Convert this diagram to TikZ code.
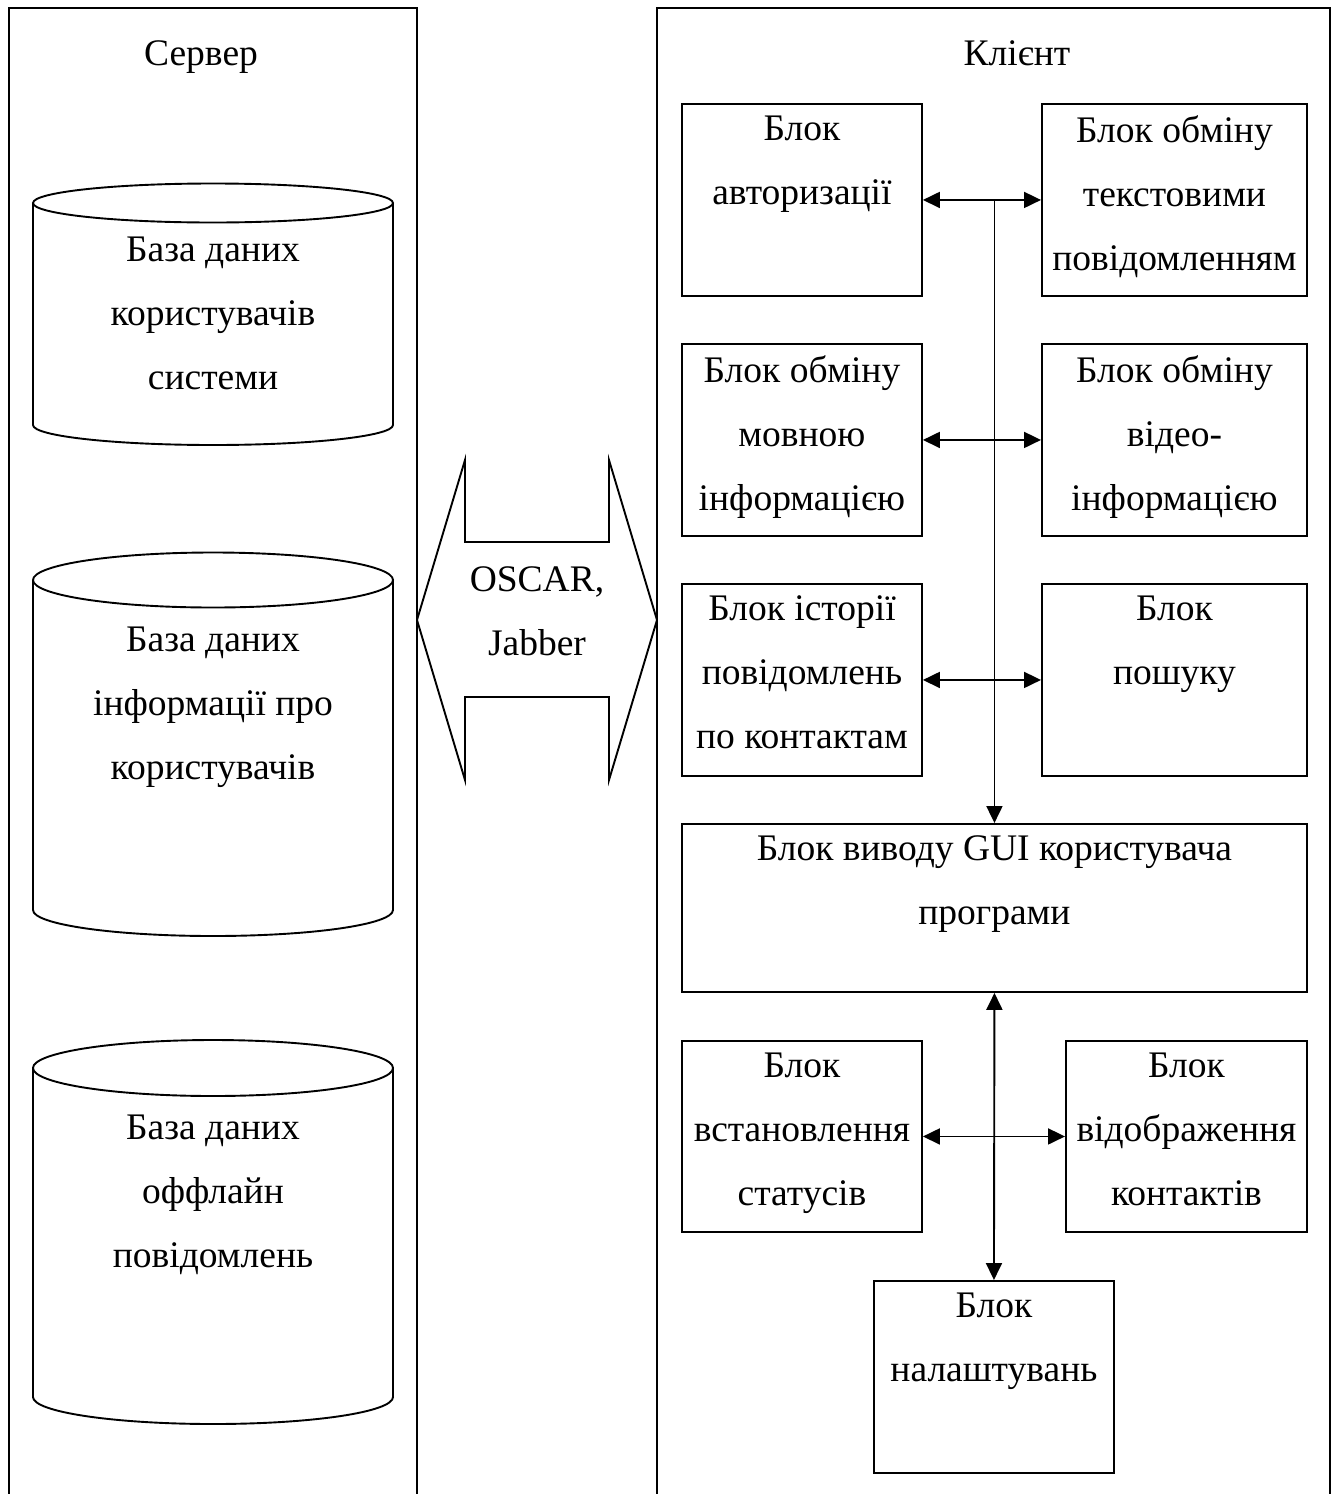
\documentclass[tikz,border=0pt]{standalone}
\usepackage{fontspec}
\setmainfont{Liberation Serif}
\usetikzlibrary{arrows.meta,calc}
\newcommand{\drawcyl}[6]{% x1, x2, top centre y, top ry, bottom centre y, bottom ry
  \draw (#1,#3) -- (#1,#5) arc[start angle=180,end angle=0,x radius={(#2-#1)/2},y radius=#6] -- (#2,#3);
  \draw ({(#1+#2)/2},#3) ellipse[x radius={(#2-#1)/2},y radius=#4];
}
\begin{document}
\begin{tikzpicture}[x=1pt,y=-1pt,line width=1.9pt,
  box/.style={draw,rectangle,inner sep=0pt,anchor=north west},
  txt/.style={font=\fontsize{37.5}{64}\selectfont,align=center,inner sep=0pt,anchor=north},
  biarr/.style={{Triangle[length=17pt,width=16pt]}-{Triangle[length=17pt,width=16pt]}},
  onearr/.style={-{Triangle[length=17pt,width=16pt]}}]
\useasboundingbox (0,0) rectangle (1338,1494);

% outer frames (open at the bottom)
\draw (9,1500) -- (9,8) -- (417,8) -- (417,1500);
\draw (657,1500) -- (657,8) -- (1330,8) -- (1330,1500);
\node[txt] (srv) at (201,40) {Сервер};
\node[txt] (cli) at (1017,40) {Клієнт};

% server databases
\drawcyl{33}{393}{203}{19.5}{425}{20}
\node[txt] (db1) at (213,236) {База даних\\користувачів\\системи};
\drawcyl{33}{393}{580}{27.5}{910}{26}
\node[txt] (db2) at (213,626) {База даних\\інформації про\\користувачів};
\drawcyl{33}{393}{1068}{28}{1397}{27}
\node[txt] (db3) at (213,1114) {База даних\\оффлайн\\повідомлень};

% protocol double arrow
\draw[line join=miter] (417,620) -- (465,460) -- (465,542) -- (609,542) -- (609,460) -- (657,620)
  -- (609,780) -- (609,697) -- (465,697) -- (465,780) -- cycle;
\node[txt] (proto) at (537,566) {OSCAR,\\Jabber};

% client blocks
\node[box,minimum width=240,minimum height=192] (b1) at (681,103) {};
\node[box,minimum width=265,minimum height=192] (b2) at (1041,103) {};
\node[box,minimum width=240,minimum height=192] (b3) at (681,343) {};
\node[box,minimum width=265,minimum height=192] (b4) at (1041,343) {};
\node[box,minimum width=240,minimum height=192] (b5) at (681,583) {};
\node[box,minimum width=265,minimum height=192] (b6) at (1041,583) {};
\node[box,minimum width=625,minimum height=168] (gui) at (681,823) {};
\node[box,minimum width=240,minimum height=191] (st) at (681,1040) {};
\node[box,minimum width=241,minimum height=191] (ct) at (1065,1040) {};
\node[box,minimum width=240,minimum height=192] (set) at (873,1280) {};

\node[txt] at ($(b1.north)+(0,12)$) {Блок\\авторизації};
\node[txt] at ($(b2.north)+(0,12)$) {Блок обміну\\текстовими\\повідомленням};
\node[txt] at ($(b3.north)+(0,12)$) {Блок обміну\\мовною\\інформацією};
\node[txt] at ($(b4.north)+(0,12)$) {Блок обміну\\відео-\\інформацією};
\node[txt] at ($(b5.north)+(0,12)$) {Блок історії\\повідомлень\\по контактам};
\node[txt] at ($(b6.north)+(0,12)$) {Блок\\пошуку};
\node[txt] at ($(gui.north)+(0,12)$) {Блок виводу GUI користувача\\програми};
\node[txt] at ($(st.north)+(0,12)$) {Блок\\встановлення\\статусів};
\node[txt] at ($(ct.north)+(0,12)$) {Блок\\відображення\\контактів};
\node[txt] at ($(set.north)+(0,12)$) {Блок\\налаштувань};

% connectors
\coordinate (trunk) at (b1.east -| gui.north);
\draw[biarr] (b1.east) -- (b2.west);
\draw[biarr] (b3.east) -- (b4.west);
\draw[biarr] (b5.east) -- (b6.west);
\draw[onearr] (trunk) -- (gui.north);
\draw[biarr] (gui.south) -- (set.north);
\draw[biarr] (st.east) -- (ct.west);
\end{tikzpicture}
\end{document}
